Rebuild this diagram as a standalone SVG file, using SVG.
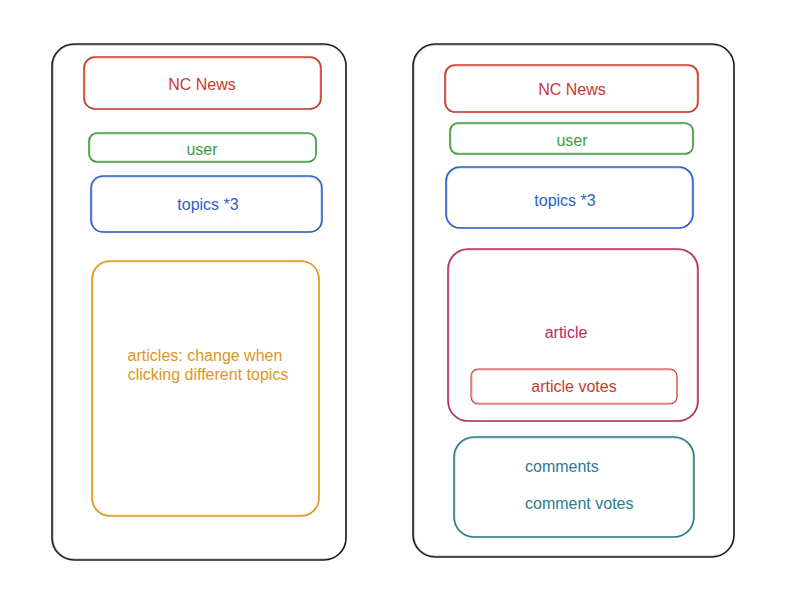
<svg xmlns="http://www.w3.org/2000/svg" width="792" height="614" viewBox="0 0 792 614">
<style>
text{font-family:"Liberation Sans",Arial,Helvetica,sans-serif;font-size:16px;text-anchor:middle;dominant-baseline:central}
.b{fill:none;stroke-width:1.6;stroke-linejoin:round}
.s{fill:none;stroke-width:0.8;opacity:0.45}
.k{stroke:#1e1e1e}
.r{stroke:#c83a2e}.tr{fill:#c83a2e}
.g{stroke:#3c9a3c}.tg{fill:#3c9a3c}
.u{stroke:#2c5ec6}.tu{fill:#2c5ec6}
.o{stroke:#dc961c}.to{fill:#dc961c}
.m{stroke:#b22f5e}.tm{fill:#b22f5e}
.t{stroke:#2e7a8e}.tt{fill:#2e7a8e}
</style>
<rect width="792" height="614" fill="#ffffff"/>
<g id="phone-left">
<rect class="b k" x="52" y="44" width="294" height="516" rx="22"/>
<rect class="s k" x="53" y="45" width="293" height="514" rx="21"/>
</g>
<g id="left-ncnews">
<rect class="b r" x="84" y="57" width="237" height="52" rx="11"/>
<rect class="s r" x="85" y="58" width="235" height="51" rx="10"/>
<text class="tr" x="202" y="84">NC News</text>
</g>
<g id="left-user">
<rect class="b g" x="89" y="133" width="227" height="29" rx="8"/>
<rect class="s g" x="90" y="134" width="226" height="27" rx="7"/>
<text class="tg" x="202" y="149">user</text>
</g>
<g id="left-topics">
<rect class="b u" x="91" y="176" width="231" height="56" rx="12"/>
<rect class="s u" x="92" y="177" width="229" height="55" rx="11"/>
<text class="tu" x="208" y="204">topics *3</text>
</g>
<g id="left-articles">
<rect class="b o" x="92" y="261" width="227" height="255" rx="18"/>
<rect class="s o" x="93" y="262" width="226" height="253" rx="17"/>
<text class="to" x="205" y="355">articles: change when</text>
<text class="to" x="208" y="374">clicking different topics</text>
</g>
<g id="phone-right">
<rect class="b k" x="413" y="44" width="321" height="513" rx="22"/>
<rect class="s k" x="414" y="45" width="320" height="511" rx="21"/>
</g>
<g id="right-ncnews">
<rect class="b r" x="445" y="65" width="253" height="47" rx="10"/>
<rect class="s r" x="446" y="66" width="251" height="46" rx="9"/>
<text class="tr" x="572" y="89">NC News</text>
</g>
<g id="right-user">
<rect class="b g" x="450" y="123" width="243" height="31" rx="8"/>
<rect class="s g" x="451" y="124" width="242" height="29" rx="7"/>
<text class="tg" x="572" y="140">user</text>
</g>
<g id="right-topics">
<rect class="b u" x="446" y="167" width="247" height="61" rx="14"/>
<rect class="s u" x="447" y="168" width="245" height="60" rx="13"/>
<text class="tu" x="565" y="200">topics *3</text>
</g>
<g id="right-article">
<rect class="b m" x="448" y="249" width="250" height="172" rx="20"/>
<rect class="s m" x="449" y="250" width="248" height="171" rx="19"/>
<text class="tm" x="566" y="332">article</text>
</g>
<g id="right-article-votes">
<rect class="b r" x="471" y="369" width="206" height="35" rx="7" style="stroke-width:1.1"/>
<rect class="s r" x="472" y="370" width="205" height="33" rx="6"/>
<text class="tr" x="574" y="386">article votes</text>
</g>
<g id="right-comments">
<rect class="b t" x="454" y="437" width="240" height="100" rx="20"/>
<rect class="s t" x="455" y="438" width="238" height="99" rx="19"/>
<text class="tt" x="525" y="466" style="text-anchor:start">comments</text>
<text class="tt" x="525" y="503" style="text-anchor:start">comment votes</text>
</g>
<g id="connectors"></g>
</svg>
